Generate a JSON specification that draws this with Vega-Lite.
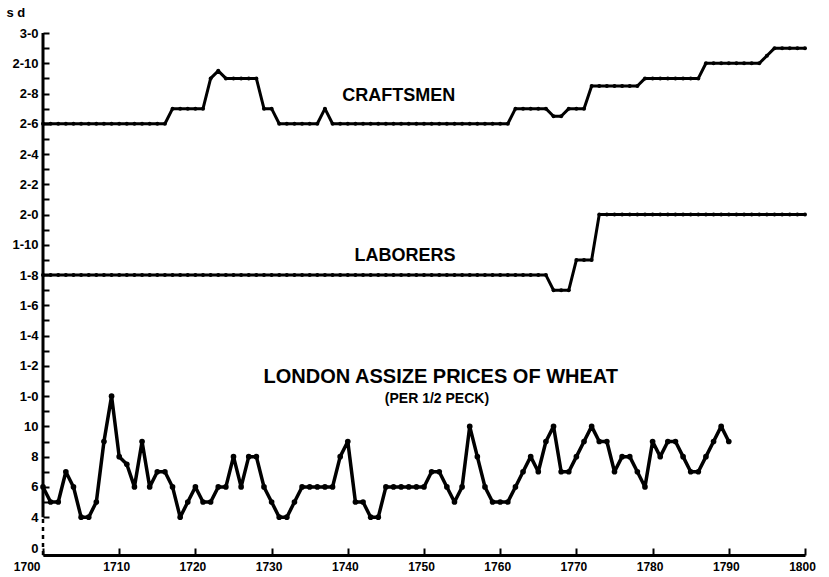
{
  "$schema": "https://vega.github.io/schema/vega-lite/v6.json",
  "width": 762,
  "height": 522,
  "autosize": {"type": "none"},
  "padding": {"left": 43, "top": 33, "right": 24, "bottom": 22},
  "background": "white",
  "config": {"view": {"stroke": null}, "font": "Liberation Sans"},
  "datasets": {
    "wages": [
      {"series":"Craftsmen","year":1700,"pence":30},{"series":"Craftsmen","year":1701,"pence":30},{"series":"Craftsmen","year":1702,"pence":30},{"series":"Craftsmen","year":1703,"pence":30},{"series":"Craftsmen","year":1704,"pence":30},{"series":"Craftsmen","year":1705,"pence":30},{"series":"Craftsmen","year":1706,"pence":30},{"series":"Craftsmen","year":1707,"pence":30},{"series":"Craftsmen","year":1708,"pence":30},{"series":"Craftsmen","year":1709,"pence":30},
      {"series":"Craftsmen","year":1710,"pence":30},{"series":"Craftsmen","year":1711,"pence":30},{"series":"Craftsmen","year":1712,"pence":30},{"series":"Craftsmen","year":1713,"pence":30},{"series":"Craftsmen","year":1714,"pence":30},{"series":"Craftsmen","year":1715,"pence":30},{"series":"Craftsmen","year":1716,"pence":30},{"series":"Craftsmen","year":1717,"pence":31},{"series":"Craftsmen","year":1718,"pence":31},{"series":"Craftsmen","year":1719,"pence":31},
      {"series":"Craftsmen","year":1720,"pence":31},{"series":"Craftsmen","year":1721,"pence":31},{"series":"Craftsmen","year":1722,"pence":33},{"series":"Craftsmen","year":1723,"pence":33.5},{"series":"Craftsmen","year":1724,"pence":33},{"series":"Craftsmen","year":1725,"pence":33},{"series":"Craftsmen","year":1726,"pence":33},{"series":"Craftsmen","year":1727,"pence":33},{"series":"Craftsmen","year":1728,"pence":33},{"series":"Craftsmen","year":1729,"pence":31},
      {"series":"Craftsmen","year":1730,"pence":31},{"series":"Craftsmen","year":1731,"pence":30},{"series":"Craftsmen","year":1732,"pence":30},{"series":"Craftsmen","year":1733,"pence":30},{"series":"Craftsmen","year":1734,"pence":30},{"series":"Craftsmen","year":1735,"pence":30},{"series":"Craftsmen","year":1736,"pence":30},{"series":"Craftsmen","year":1737,"pence":31},{"series":"Craftsmen","year":1738,"pence":30},{"series":"Craftsmen","year":1739,"pence":30},
      {"series":"Craftsmen","year":1740,"pence":30},{"series":"Craftsmen","year":1741,"pence":30},{"series":"Craftsmen","year":1742,"pence":30},{"series":"Craftsmen","year":1743,"pence":30},{"series":"Craftsmen","year":1744,"pence":30},{"series":"Craftsmen","year":1745,"pence":30},{"series":"Craftsmen","year":1746,"pence":30},{"series":"Craftsmen","year":1747,"pence":30},{"series":"Craftsmen","year":1748,"pence":30},{"series":"Craftsmen","year":1749,"pence":30},
      {"series":"Craftsmen","year":1750,"pence":30},{"series":"Craftsmen","year":1751,"pence":30},{"series":"Craftsmen","year":1752,"pence":30},{"series":"Craftsmen","year":1753,"pence":30},{"series":"Craftsmen","year":1754,"pence":30},{"series":"Craftsmen","year":1755,"pence":30},{"series":"Craftsmen","year":1756,"pence":30},{"series":"Craftsmen","year":1757,"pence":30},{"series":"Craftsmen","year":1758,"pence":30},{"series":"Craftsmen","year":1759,"pence":30},
      {"series":"Craftsmen","year":1760,"pence":30},{"series":"Craftsmen","year":1761,"pence":30},{"series":"Craftsmen","year":1762,"pence":31},{"series":"Craftsmen","year":1763,"pence":31},{"series":"Craftsmen","year":1764,"pence":31},{"series":"Craftsmen","year":1765,"pence":31},{"series":"Craftsmen","year":1766,"pence":31},{"series":"Craftsmen","year":1767,"pence":30.5},{"series":"Craftsmen","year":1768,"pence":30.5},{"series":"Craftsmen","year":1769,"pence":31},
      {"series":"Craftsmen","year":1770,"pence":31},{"series":"Craftsmen","year":1771,"pence":31},{"series":"Craftsmen","year":1772,"pence":32.5},{"series":"Craftsmen","year":1773,"pence":32.5},{"series":"Craftsmen","year":1774,"pence":32.5},{"series":"Craftsmen","year":1775,"pence":32.5},{"series":"Craftsmen","year":1776,"pence":32.5},{"series":"Craftsmen","year":1777,"pence":32.5},{"series":"Craftsmen","year":1778,"pence":32.5},{"series":"Craftsmen","year":1779,"pence":33},
      {"series":"Craftsmen","year":1780,"pence":33},{"series":"Craftsmen","year":1781,"pence":33},{"series":"Craftsmen","year":1782,"pence":33},{"series":"Craftsmen","year":1783,"pence":33},{"series":"Craftsmen","year":1784,"pence":33},{"series":"Craftsmen","year":1785,"pence":33},{"series":"Craftsmen","year":1786,"pence":33},{"series":"Craftsmen","year":1787,"pence":34},{"series":"Craftsmen","year":1788,"pence":34},{"series":"Craftsmen","year":1789,"pence":34},
      {"series":"Craftsmen","year":1790,"pence":34},{"series":"Craftsmen","year":1791,"pence":34},{"series":"Craftsmen","year":1792,"pence":34},{"series":"Craftsmen","year":1793,"pence":34},{"series":"Craftsmen","year":1794,"pence":34},{"series":"Craftsmen","year":1795,"pence":34.5},{"series":"Craftsmen","year":1796,"pence":35},{"series":"Craftsmen","year":1797,"pence":35},{"series":"Craftsmen","year":1798,"pence":35},{"series":"Craftsmen","year":1799,"pence":35},
      {"series":"Craftsmen","year":1800,"pence":35},
      {"series":"Laborers","year":1700,"pence":20},{"series":"Laborers","year":1701,"pence":20},{"series":"Laborers","year":1702,"pence":20},{"series":"Laborers","year":1703,"pence":20},{"series":"Laborers","year":1704,"pence":20},{"series":"Laborers","year":1705,"pence":20},{"series":"Laborers","year":1706,"pence":20},{"series":"Laborers","year":1707,"pence":20},{"series":"Laborers","year":1708,"pence":20},{"series":"Laborers","year":1709,"pence":20},
      {"series":"Laborers","year":1710,"pence":20},{"series":"Laborers","year":1711,"pence":20},{"series":"Laborers","year":1712,"pence":20},{"series":"Laborers","year":1713,"pence":20},{"series":"Laborers","year":1714,"pence":20},{"series":"Laborers","year":1715,"pence":20},{"series":"Laborers","year":1716,"pence":20},{"series":"Laborers","year":1717,"pence":20},{"series":"Laborers","year":1718,"pence":20},{"series":"Laborers","year":1719,"pence":20},
      {"series":"Laborers","year":1720,"pence":20},{"series":"Laborers","year":1721,"pence":20},{"series":"Laborers","year":1722,"pence":20},{"series":"Laborers","year":1723,"pence":20},{"series":"Laborers","year":1724,"pence":20},{"series":"Laborers","year":1725,"pence":20},{"series":"Laborers","year":1726,"pence":20},{"series":"Laborers","year":1727,"pence":20},{"series":"Laborers","year":1728,"pence":20},{"series":"Laborers","year":1729,"pence":20},
      {"series":"Laborers","year":1730,"pence":20},{"series":"Laborers","year":1731,"pence":20},{"series":"Laborers","year":1732,"pence":20},{"series":"Laborers","year":1733,"pence":20},{"series":"Laborers","year":1734,"pence":20},{"series":"Laborers","year":1735,"pence":20},{"series":"Laborers","year":1736,"pence":20},{"series":"Laborers","year":1737,"pence":20},{"series":"Laborers","year":1738,"pence":20},{"series":"Laborers","year":1739,"pence":20},
      {"series":"Laborers","year":1740,"pence":20},{"series":"Laborers","year":1741,"pence":20},{"series":"Laborers","year":1742,"pence":20},{"series":"Laborers","year":1743,"pence":20},{"series":"Laborers","year":1744,"pence":20},{"series":"Laborers","year":1745,"pence":20},{"series":"Laborers","year":1746,"pence":20},{"series":"Laborers","year":1747,"pence":20},{"series":"Laborers","year":1748,"pence":20},{"series":"Laborers","year":1749,"pence":20},
      {"series":"Laborers","year":1750,"pence":20},{"series":"Laborers","year":1751,"pence":20},{"series":"Laborers","year":1752,"pence":20},{"series":"Laborers","year":1753,"pence":20},{"series":"Laborers","year":1754,"pence":20},{"series":"Laborers","year":1755,"pence":20},{"series":"Laborers","year":1756,"pence":20},{"series":"Laborers","year":1757,"pence":20},{"series":"Laborers","year":1758,"pence":20},{"series":"Laborers","year":1759,"pence":20},
      {"series":"Laborers","year":1760,"pence":20},{"series":"Laborers","year":1761,"pence":20},{"series":"Laborers","year":1762,"pence":20},{"series":"Laborers","year":1763,"pence":20},{"series":"Laborers","year":1764,"pence":20},{"series":"Laborers","year":1765,"pence":20},{"series":"Laborers","year":1766,"pence":20},{"series":"Laborers","year":1767,"pence":19},{"series":"Laborers","year":1768,"pence":19},{"series":"Laborers","year":1769,"pence":19},
      {"series":"Laborers","year":1770,"pence":21},{"series":"Laborers","year":1771,"pence":21},{"series":"Laborers","year":1772,"pence":21},{"series":"Laborers","year":1773,"pence":24},{"series":"Laborers","year":1774,"pence":24},{"series":"Laborers","year":1775,"pence":24},{"series":"Laborers","year":1776,"pence":24},{"series":"Laborers","year":1777,"pence":24},{"series":"Laborers","year":1778,"pence":24},{"series":"Laborers","year":1779,"pence":24},
      {"series":"Laborers","year":1780,"pence":24},{"series":"Laborers","year":1781,"pence":24},{"series":"Laborers","year":1782,"pence":24},{"series":"Laborers","year":1783,"pence":24},{"series":"Laborers","year":1784,"pence":24},{"series":"Laborers","year":1785,"pence":24},{"series":"Laborers","year":1786,"pence":24},{"series":"Laborers","year":1787,"pence":24},{"series":"Laborers","year":1788,"pence":24},{"series":"Laborers","year":1789,"pence":24},
      {"series":"Laborers","year":1790,"pence":24},{"series":"Laborers","year":1791,"pence":24},{"series":"Laborers","year":1792,"pence":24},{"series":"Laborers","year":1793,"pence":24},{"series":"Laborers","year":1794,"pence":24},{"series":"Laborers","year":1795,"pence":24},{"series":"Laborers","year":1796,"pence":24},{"series":"Laborers","year":1797,"pence":24},{"series":"Laborers","year":1798,"pence":24},{"series":"Laborers","year":1799,"pence":24},
      {"series":"Laborers","year":1800,"pence":24}
    ],
    "wheat": [
      {"year":1700,"pence":6},{"year":1701,"pence":5},{"year":1702,"pence":5},{"year":1703,"pence":7},{"year":1704,"pence":6},{"year":1705,"pence":4},{"year":1706,"pence":4},{"year":1707,"pence":5},{"year":1708,"pence":9},{"year":1709,"pence":12},
      {"year":1710,"pence":8},{"year":1711,"pence":7.5},{"year":1712,"pence":6},{"year":1713,"pence":9},{"year":1714,"pence":6},{"year":1715,"pence":7},{"year":1716,"pence":7},{"year":1717,"pence":6},{"year":1718,"pence":4},{"year":1719,"pence":5},
      {"year":1720,"pence":6},{"year":1721,"pence":5},{"year":1722,"pence":5},{"year":1723,"pence":6},{"year":1724,"pence":6},{"year":1725,"pence":8},{"year":1726,"pence":6},{"year":1727,"pence":8},{"year":1728,"pence":8},{"year":1729,"pence":6},
      {"year":1730,"pence":5},{"year":1731,"pence":4},{"year":1732,"pence":4},{"year":1733,"pence":5},{"year":1734,"pence":6},{"year":1735,"pence":6},{"year":1736,"pence":6},{"year":1737,"pence":6},{"year":1738,"pence":6},{"year":1739,"pence":8},
      {"year":1740,"pence":9},{"year":1741,"pence":5},{"year":1742,"pence":5},{"year":1743,"pence":4},{"year":1744,"pence":4},{"year":1745,"pence":6},{"year":1746,"pence":6},{"year":1747,"pence":6},{"year":1748,"pence":6},{"year":1749,"pence":6},
      {"year":1750,"pence":6},{"year":1751,"pence":7},{"year":1752,"pence":7},{"year":1753,"pence":6},{"year":1754,"pence":5},{"year":1755,"pence":6},{"year":1756,"pence":10},{"year":1757,"pence":8},{"year":1758,"pence":6},{"year":1759,"pence":5},
      {"year":1760,"pence":5},{"year":1761,"pence":5},{"year":1762,"pence":6},{"year":1763,"pence":7},{"year":1764,"pence":8},{"year":1765,"pence":7},{"year":1766,"pence":9},{"year":1767,"pence":10},{"year":1768,"pence":7},{"year":1769,"pence":7},
      {"year":1770,"pence":8},{"year":1771,"pence":9},{"year":1772,"pence":10},{"year":1773,"pence":9},{"year":1774,"pence":9},{"year":1775,"pence":7},{"year":1776,"pence":8},{"year":1777,"pence":8},{"year":1778,"pence":7},{"year":1779,"pence":6},
      {"year":1780,"pence":9},{"year":1781,"pence":8},{"year":1782,"pence":9},{"year":1783,"pence":9},{"year":1784,"pence":8},{"year":1785,"pence":7},{"year":1786,"pence":7},{"year":1787,"pence":8},{"year":1788,"pence":9},{"year":1789,"pence":10},
      {"year":1790,"pence":9}
    ]
  },
  "encoding": {
    "x": {
      "field": "year", "type": "quantitative",
      "scale": {"domain": [1700, 1800], "nice": false, "zero": false},
      "axis": {
        "values": [1700,1710,1720,1730,1740,1750,1760,1770,1780,1790,1800],
        "format": "d", "title": null, "grid": false,
        "domainColor": "black", "domainWidth": 3,
        "tickColor": "black", "tickWidth": 2, "tickSize": -7,
        "labelFont": "Liberation Sans", "labelFontWeight": "bold", "labelFontSize": 12,
        "labelColor": "black", "labelPadding": 13, "labelFlush": false,
        "labelAlign": {"condition": {"test": "datum.value == 1700", "value": "right"}, "value": "center"},
        "labelOffset": -3
      }
    },
    "y": {
      "field": "pence", "type": "quantitative",
      "scale": {"domain": [1.5, 36], "nice": false, "zero": false},
      "axis": {
        "values": [1.5,4,5,6,7,8,9,10,11,12,13,14,15,16,17,18,19,20,21,22,23,24,25,26,27,28,29,30,31,32,33,34,35,36],
        "labelExpr": "datum.value < 2 ? '0' : (datum.value % 2 == 1 ? '' : (datum.value >= 12 ? floor(datum.value / 12) + '-' + (datum.value % 12) : '' + datum.value))",
        "labelBaseline": {"condition": {"test": "datum.value < 2", "value": "bottom"}, "value": "middle"},
        "domain": false, "grid": false,
        "tickColor": "black", "tickWidth": 2, "tickSize": -6,
        "labelFont": "Liberation Sans", "labelFontWeight": "bold", "labelFontSize": 13,
        "labelColor": "black", "labelPadding": 11, "labelFlush": false,
        "title": "s d", "titleAngle": 0, "titleAlign": "left", "titleBaseline": "alphabetic",
        "titleX": -37, "titleY": -17, "titleFont": "Liberation Sans", "titleFontWeight": "bold",
        "titleFontSize": 13, "titleColor": "black"
      }
    }
  },
  "layer": [
    {
      "data": {"values": [{"year": 1700, "pence": 4, "pence2": 36}]},
      "mark": {"type": "rule", "color": "black", "strokeWidth": 3},
      "encoding": {"y2": {"field": "pence2"}}
    },
    {
      "data": {"values": [{"year": 1700, "pence": 1.5, "pence2": 4}]},
      "mark": {"type": "rule", "color": "black", "strokeWidth": 2.5, "strokeDash": [4, 4]},
      "encoding": {"y2": {"field": "pence2"}}
    },
    {
      "data": {"name": "wages"},
      "mark": {"type": "line", "color": "black", "strokeWidth": 3, "strokeJoin": "round"},
      "encoding": {"detail": {"field": "series"}}
    },
    {
      "data": {"name": "wages"},
      "mark": {"type": "point", "filled": true, "color": "black", "size": 16, "opacity": 1}
    },
    {
      "data": {"name": "wheat"},
      "mark": {"type": "line", "color": "black", "strokeWidth": 3.5, "strokeJoin": "round"}
    },
    {
      "data": {"name": "wheat"},
      "mark": {"type": "point", "filled": true, "color": "black", "size": 32, "opacity": 1}
    },
    {
      "data": {"values": [
        {"label": "CRAFTSMEN", "year": 1746.7, "pence": 31.84},
        {"label": "LABORERS", "year": 1747.5, "pence": 21.28}
      ]},
      "mark": {"type": "text", "font": "Liberation Sans", "fontWeight": "bold", "fontSize": 18, "color": "black", "baseline": "middle", "align": "center"},
      "encoding": {"text": {"field": "label"}}
    },
    {
      "data": {"values": [{"label": "LONDON ASSIZE PRICES OF WHEAT", "year": 1752.2, "pence": 13.27}]},
      "mark": {"type": "text", "font": "Liberation Sans", "fontWeight": "bold", "fontSize": 20, "color": "black", "baseline": "middle", "align": "center"},
      "encoding": {"text": {"field": "label"}}
    },
    {
      "data": {"values": [{"label": "(PER 1/2 PECK)", "year": 1751.7, "pence": 11.78}]},
      "mark": {"type": "text", "font": "Liberation Sans", "fontWeight": "bold", "fontSize": 14, "color": "black", "baseline": "middle", "align": "center"},
      "encoding": {"text": {"field": "label"}}
    }
  ]
}
